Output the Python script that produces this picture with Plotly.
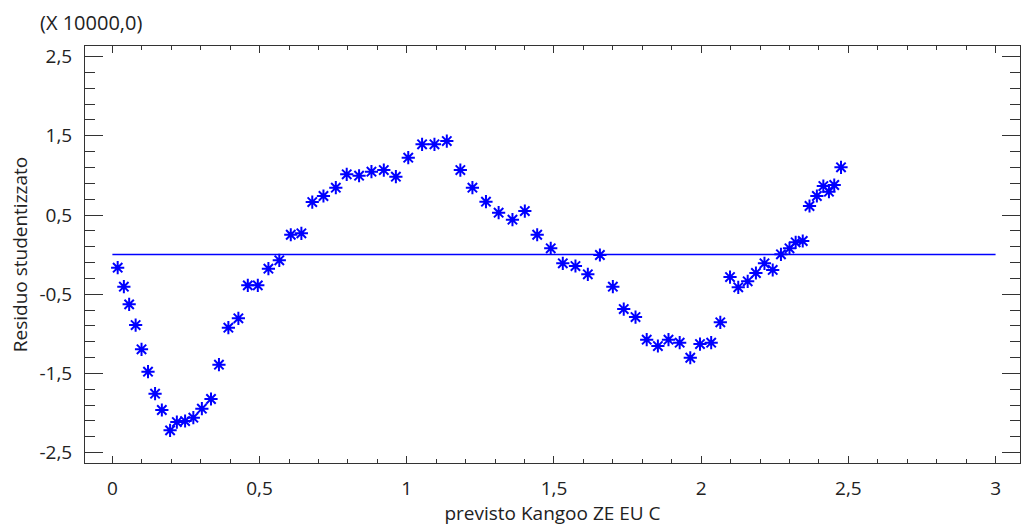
import plotly.graph_objects as go

# Predicted values (x) and studentized residuals (y, in units of 10000)
previsto = [0.018, 0.039, 0.057, 0.079, 0.099, 0.121, 0.145, 0.168, 0.196, 0.219,
            0.247, 0.275, 0.304, 0.335, 0.362, 0.394, 0.428, 0.460, 0.494, 0.530,
            0.567, 0.606, 0.642, 0.679, 0.717, 0.759, 0.796, 0.838, 0.880, 0.922,
            0.963, 1.005, 1.052, 1.094, 1.136, 1.182, 1.223, 1.269, 1.312, 1.359,
            1.401, 1.443, 1.489, 1.530, 1.573, 1.615, 1.656, 1.700, 1.737, 1.777,
            1.815, 1.853, 1.889, 1.927, 1.963, 1.996, 2.034, 2.065, 2.098, 2.126,
            2.158, 2.186, 2.215, 2.243, 2.271, 2.300, 2.321, 2.345, 2.368, 2.393,
            2.415, 2.434, 2.452, 2.475]
residuo = [-0.165, -0.405, -0.628, -0.889, -1.196, -1.478, -1.756, -1.962, -2.219, -2.114,
           -2.101, -2.059, -1.945, -1.823, -1.390, -0.923, -0.804, -0.388, -0.388, -0.178,
           -0.072, 0.251, 0.269, 0.664, 0.740, 0.845, 1.014, 0.996, 1.047, 1.068,
           0.984, 1.224, 1.393, 1.393, 1.434, 1.068, 0.845, 0.668, 0.529, 0.441,
           0.550, 0.251, 0.080, -0.110, -0.144, -0.249, -0.005, -0.405, -0.687, -0.788,
           -1.074, -1.154, -1.074, -1.112, -1.302, -1.129, -1.112, -0.855, -0.283, -0.413,
           -0.337, -0.232, -0.110, -0.194, 0.004, 0.080, 0.155, 0.172, 0.614, 0.740,
           0.866, 0.794, 0.879, 1.102]

# Reference line at zero residual
ref_line_x = [0, 3]
ref_line_y = [0, 0]

# Tick labels
x_tickvals = [0, 0.5, 1, 1.5, 2, 2.5, 3]
x_ticktext = ["0", "0,5", "1", "1,5", "2", "2,5", "3"]
y_tickvals = [-2.5, -1.5, -0.5, 0.5, 1.5, 2.5]
y_ticktext = ["-2,5", "-1,5", "-0,5", "0,5", "1,5", "2,5"]

FONT = "Open Sans"
TXT = "#222222"
AX = "#333333"
FS = 19

fig = go.Figure()
fig.add_trace(go.Scatter(
    x=ref_line_x, y=ref_line_y, mode="lines",
    line=dict(color="#0000ff", width=1.5), hoverinfo="skip", showlegend=False))
fig.add_trace(go.Scatter(
    x=previsto, y=residuo, mode="markers",
    marker=dict(symbol="asterisk-open", size=11, color="#0000ff",
                line=dict(color="#0000ff", width=2)),
    showlegend=False))

fig.update_layout(
    width=1022, height=526,
    margin=dict(l=85, r=2, t=46, b=63),
    paper_bgcolor="white", plot_bgcolor="white",
    font=dict(family=FONT, size=FS, color=TXT),
    xaxis=dict(
        range=[-0.093, 3.083], showgrid=False, zeroline=False,
        showline=True, linecolor=AX, linewidth=1, mirror="ticks",
        ticks="inside", ticklen=7, tickcolor=AX, tickwidth=1,
        tickvals=x_tickvals, ticktext=x_ticktext,
        minor=dict(ticks="inside", ticklen=4, dtick=0.1, tick0=0, tickcolor=AX, showgrid=False),
        ticklabelstandoff=8,
        tickfont=dict(family=FONT, size=FS, color=TXT),
        title=dict(text="previsto Kangoo ZE EU C", standoff=7,
                   font=dict(family=FONT, size=FS, color=TXT)),
    ),
    yaxis=dict(
        range=[-2.631, 2.634], showgrid=False, zeroline=False,
        showline=True, linecolor=AX, linewidth=1, mirror="ticks",
        ticks="inside", ticklen=18, tickcolor=AX, tickwidth=1,
        tickvals=y_tickvals, ticktext=y_ticktext,
        minor=dict(ticks="inside", ticklen=10, dtick=0.2, tick0=0.5, tickcolor=AX, showgrid=False),
        ticklabelstandoff=8,
        tickfont=dict(family=FONT, size=FS, color=TXT),
        title=dict(text="Residuo studentizzato", standoff=6,
                   font=dict(family=FONT, size=FS, color=TXT)),
    ),
    annotations=[dict(text="(X 10000,0)", xref="paper", yref="paper",
                      x=-0.05, y=1.0, yshift=24, xanchor="left", yanchor="middle",
                      showarrow=False, font=dict(family=FONT, size=20, color=TXT))],
)

fig.write_html("out.html")
